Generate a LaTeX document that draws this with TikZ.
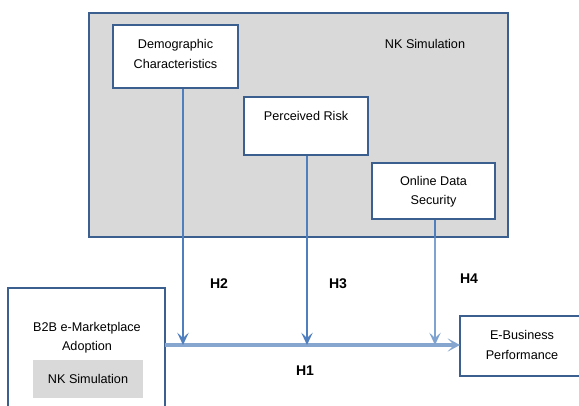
\documentclass[tikz,border=0pt]{standalone}
\usepackage{fontspec}
\setmainfont{Liberation Sans}
\usetikzlibrary{fit,arrows.meta}
\definecolor{boxblue}{HTML}{3B5F8E}
\definecolor{arrblue}{HTML}{4F7FBE}
\definecolor{lightarr}{HTML}{7FA3D0}
\definecolor{mainarr}{HTML}{86A6CF}
\definecolor{graybg}{HTML}{D9D9D9}
\tikzset{
  boxw/.style={draw=boxblue, line width=1.6pt, fill=white, inner sep=0pt},
  boxg/.style={draw=boxblue, line width=1.6pt, fill=graybg, inner sep=0pt},
  txt/.style={font=\fontsize{7.2}{11}\selectfont, align=center, inner sep=0pt},
  hlab/.style={font=\fontsize{8}{9}\selectfont\bfseries, inner sep=0pt},
  thinline/.style={draw=arrblue, line width=0.8pt},
  arr/.style={draw=arrblue, line width=1.4pt, -{Stealth[length=7pt,width=6.5pt,inset=3pt]}},
  arrlight/.style={draw=lightarr, line width=1.4pt, -{Stealth[length=7pt,width=6.5pt,inset=3pt]}},
  mainline/.style={draw=mainarr, line width=1.8pt, -{Stealth[length=7pt,width=7.5pt,inset=3.5pt]}},
}
\begin{document}
\begin{tikzpicture}[x=0.02cm,y=-0.02cm]
\useasboundingbox (0,0) rectangle (579,406);
\clip (0,0) rectangle (579,406);
% big gray box
\node[boxg, fit={(89,13) (508,237)}] (nk) {};
\node[txt] (nklabel) at (425,44) {NK Simulation};
% inner boxes
\node[boxw, fit={(113,25) (238,88)}] (demo) {};
\node[txt] (demotxt) at (175.5,54) {Demographic\\Characteristics};
\node[boxw, fit={(244,97) (368,155)}] (risk) {};
\node[txt] (risktxt) at (306,116) {Perceived Risk};
\node[boxw, fit={(372,163) (495,219)}] (sec) {};
\node[txt] (sectxt) at (433.5,192) {Online Data\\Security};
% B2B box
\node[boxw, fit={(8,288) (165,430)}] (b2b) {};
\node[txt] (b2btxt) at (87,338) {B2B e-Marketplace\\Adoption};
\node[fill=graybg, inner sep=0pt, fit={(33,360) (143,398)}] (nk2) {};
\node[txt] (nk2txt) at (88,379) {NK Simulation};
% E-Business box
\node[boxw, fit={(460,316) (600,376)}] (ebp) {};
\node[txt] (ebptxt) at (522,345) {E-Business\\Performance};
% main line
\coordinate (ms) at (165,345);
\coordinate (me) at (460,345);
\draw[mainline] (ms) -- (me);
% vertical arrows
\coordinate (dbot) at ([xshift=0.15cm]demo.south);
\draw[thinline] (dbot) -- (dbot |- nk.south);
\draw[arr] (dbot |- nk.south) -- (dbot |- ms);
\coordinate (rbot) at ([xshift=0.02cm]risk.south);
\draw[thinline] (rbot) -- (rbot |- nk.south);
\draw[arr] (rbot |- nk.south) -- (rbot |- ms);
\coordinate (sbot) at ([xshift=0.03cm]sec.south);
\draw[thinline] (sbot) -- (sbot |- nk.south);
\draw[arrlight] (sbot |- nk.south) -- (sbot |- ms);
% labels
\node[hlab] (h2) at (219,284) {H2};
\node[hlab] (h3) at (338,284) {H3};
\node[hlab] (h4) at (469,279) {H4};
\node[hlab] (h1) at (305,371) {H1};
\end{tikzpicture}
\end{document}
